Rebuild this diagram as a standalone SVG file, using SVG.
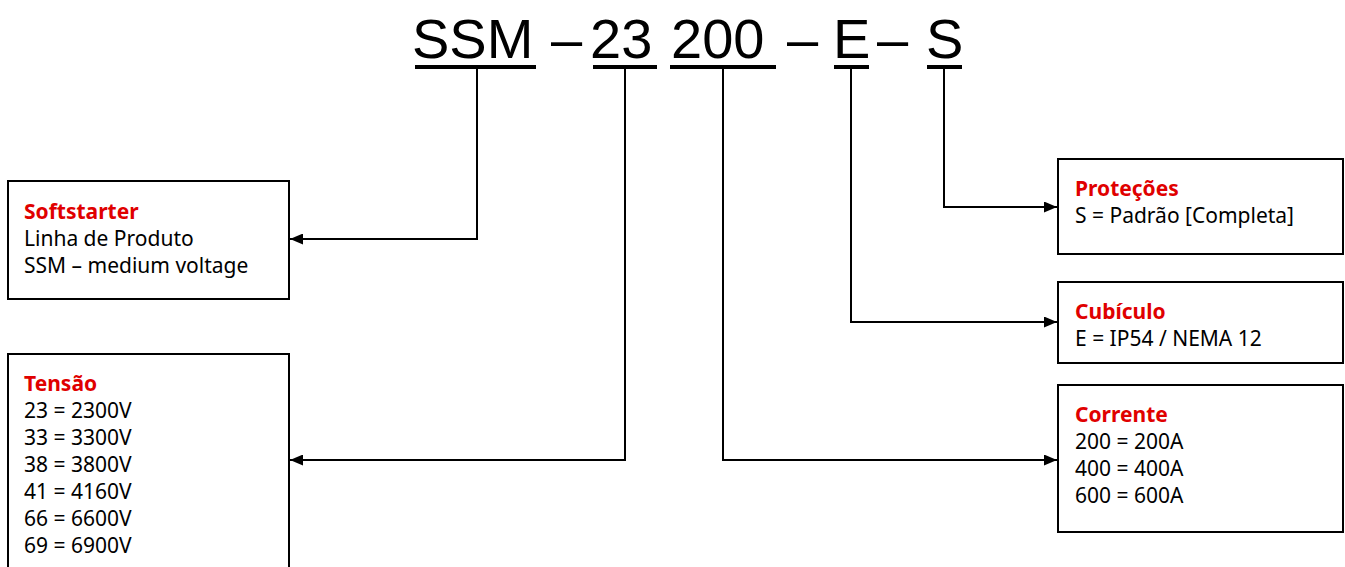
<svg xmlns="http://www.w3.org/2000/svg" width="1345" height="567" viewBox="0 0 1345 567">
<style>
.box{fill:#fff;stroke:#000;stroke-width:2}
.t{font-family:"Noto Sans","Open Sans",sans-serif;font-size:21px;fill:#000}
.h{font-family:"Noto Sans","Open Sans",sans-serif;font-size:21px;font-weight:bold;fill:#e00000}
.big{font-family:"Liberation Sans",Arial,sans-serif;font-size:56px;fill:#000}
.ul{stroke:#000;stroke-width:4}
.c{fill:none;stroke:#000;stroke-width:2}
</style>
<defs>
<marker id="arr" viewBox="0 0 13 11" refX="13" refY="5.5" markerWidth="13" markerHeight="11" markerUnits="userSpaceOnUse" orient="auto">
<path d="M0,0 L13,5.5 L0,11 Z" fill="#000"/>
</marker>
</defs>
<g id="title">
<text class="big" x="412" y="58">SSM</text>
<text class="big" x="551" y="58">–</text>
<text class="big" x="590" y="58">23</text>
<text class="big" x="671" y="58">200</text>
<text class="big" x="787" y="58">–</text>
<text class="big" x="833" y="58">E</text>
<text class="big" x="877" y="58">–</text>
<text class="big" x="926" y="58">S</text>
<line class="ul" x1="415" y1="67" x2="536" y2="67"/>
<line class="ul" x1="593" y1="67" x2="657" y2="67"/>
<line class="ul" x1="670" y1="67" x2="776" y2="67"/>
<line class="ul" x1="834" y1="67" x2="869" y2="67"/>
<line class="ul" x1="927" y1="67" x2="962" y2="67"/>
</g>
<g id="connectors">
<path class="c" d="M477,69 V239 H290" marker-end="url(#arr)"/>
<path class="c" d="M625,69 V460 H290" marker-end="url(#arr)"/>
<path class="c" d="M723,69 V460 H1057" marker-end="url(#arr)"/>
<path class="c" d="M851,69 V322 H1057" marker-end="url(#arr)"/>
<path class="c" d="M944,69 V207 H1057" marker-end="url(#arr)"/>
</g>
<g id="softstarter">
<rect class="box" x="8" y="181" width="281" height="118"/>
<text class="h" x="24" y="219">Softstarter</text>
<text class="t" x="24" y="246">Linha de Produto</text>
<text class="t" x="24" y="273">SSM – medium voltage</text>
</g>
<g id="tensao">
<rect class="box" x="8" y="354" width="281" height="220"/>
<text class="h" x="24" y="391">Tensão</text>
<text class="t" x="24" y="418">23 = 2300V</text>
<text class="t" x="24" y="445">33 = 3300V</text>
<text class="t" x="24" y="472">38 = 3800V</text>
<text class="t" x="24" y="499">41 = 4160V</text>
<text class="t" x="24" y="526">66 = 6600V</text>
<text class="t" x="24" y="553">69 = 6900V</text>
</g>
<g id="protecoes">
<rect class="box" x="1058" y="159" width="285" height="95"/>
<text class="h" x="1075" y="196">Proteções</text>
<text class="t" x="1075" y="223">S = Padrão [Completa]</text>
</g>
<g id="cubiculo">
<rect class="box" x="1058" y="282" width="285" height="81"/>
<text class="h" x="1075" y="319">Cubículo</text>
<text class="t" x="1075" y="346">E = IP54 / NEMA 12</text>
</g>
<g id="corrente">
<rect class="box" x="1058" y="385" width="285" height="147"/>
<text class="h" x="1075" y="422">Corrente</text>
<text class="t" x="1075" y="449">200 = 200A</text>
<text class="t" x="1075" y="476">400 = 400A</text>
<text class="t" x="1075" y="503">600 = 600A</text>
</g>
</svg>
